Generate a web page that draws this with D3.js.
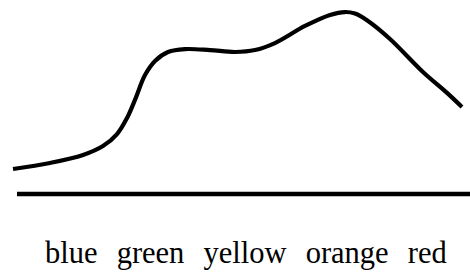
<!DOCTYPE html>
<html>
<head>
<meta charset="utf-8">
<script src="https://cdn.jsdelivr.net/npm/d3@7"></script>
<style>
  html, body { margin: 0; padding: 0; background: #fff; }
  svg { display: block; }
</style>
</head>
<body>
<svg id="chart" width="470" height="274"></svg>
<script>
// Category labels along the spectrum
const categories = ["blue", "green", "yellow", "orange", "red"];
// Wavelength (nm) samples of the curve
const wavelengths = [400, 424.7, 446.8, 460.1, 469.5, 476.2, 481.5, 488.2, 494.9, 503.6, 514.9, 531.6, 548.3, 561.7, 575.0, 595.1, 611.8, 621.8, 628.5, 637.2, 651.9, 673.9, 690.0, 700];
// Relative intensity at each wavelength
const intensity = [12.9, 16.0, 20.1, 24.7, 30.9, 39.2, 48.5, 61.3, 68.6, 73.2, 74.7, 74.2, 73.2, 74.2, 77.8, 86.6, 92.3, 93.8, 93.0, 89.2, 79.9, 62.9, 52.1, 44.8];

const svg = d3.select("#chart");

const x = d3.scaleLinear().domain([400, 700]).range([13, 462]);
const y = d3.scaleLinear().domain([0, 100]).range([194, 0]);

const pts = wavelengths.map((w, i) => [w, intensity[i]]);

const line = d3.line()
  .x(d => x(d[0]))
  .y(d => y(d[1]))
  .curve(d3.curveCatmullRom.alpha(0.5));

svg.append("path")
  .datum(pts)
  .attr("d", line)
  .attr("fill", "none")
  .attr("stroke", "#000")
  .attr("stroke-width", 4.2)
  .attr("stroke-linecap", "butt")
  .attr("stroke-linejoin", "round");

// baseline
svg.append("line")
  .attr("x1", 17).attr("x2", 470)
  .attr("y1", y(0)).attr("y2", y(0))
  .attr("stroke", "#000")
  .attr("stroke-width", 4.5);

svg.append("text")
  .attr("x", 45)
  .attr("y", 263)
  .attr("font-family", "'Liberation Serif', 'Times New Roman', serif")
  .attr("font-size", 30.5)
  .attr("word-spacing", 11.5)
  .attr("fill", "#000")
  .text(categories.join(" "));
</script>
</body>
</html>
